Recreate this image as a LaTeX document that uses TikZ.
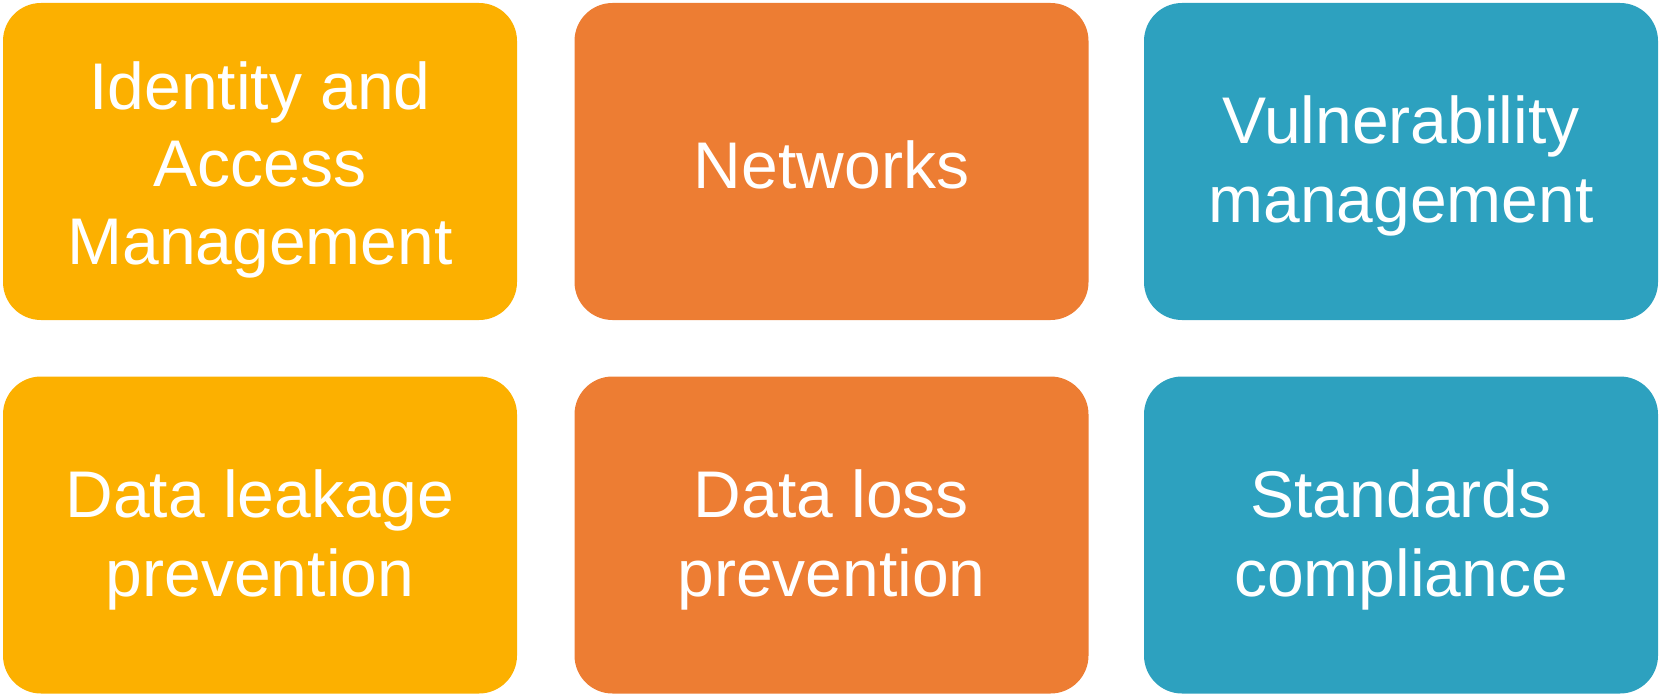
\documentclass[tikz,border=0pt]{standalone}
\usepackage{fontspec}
\setmainfont{Liberation Sans}
\definecolor{cyel}{HTML}{FCB000}
\definecolor{cora}{HTML}{ED7D33}
\definecolor{cblu}{HTML}{2DA1BF}
\begin{document}
\begin{tikzpicture}[x=1pt,y=-1pt,
  tile/.style={rectangle, rounded corners=38pt, minimum width=514pt, minimum height=317pt,
    inner sep=0pt},
  lbl/.style={text=white, align=center, inner sep=0pt,
    font=\fontsize{66}{79}\selectfont}]
\useasboundingbox (0,0) rectangle (1659,695);
\node[tile, fill=cyel] (iam) at (260,161.5) {};
\node[tile, fill=cora] (net) at (831.5,161.5) {};
\node[tile, fill=cblu] (vul) at (1401,161.5) {};
\node[tile, fill=cyel] (dlp1) at (260,535) {};
\node[tile, fill=cora] (dlp2) at (831.5,535) {};
\node[tile, fill=cblu] (std) at (1401,535) {};
\node[lbl, font=\fontsize{66}{77.5}\selectfont] (iamt) at ([yshift=-8pt]iam.center) {Identity and\\Access\\Management};
\node[lbl] (nett) at ([yshift=-3pt]net.center) {Networks};
\node[lbl] (vult) at ([yshift=-4pt]vul.center) {Vulnerability\\management};
\node[lbl] (dlp1t) at ([yshift=-5pt]dlp1.center) {Data leakage\\prevention};
\node[lbl] (dlp2t) at ([yshift=-5pt]dlp2.center) {Data loss\\prevention};
\node[lbl] (stdt) at ([yshift=-5pt]std.center) {Standards\\compliance};
\end{tikzpicture}
\end{document}
